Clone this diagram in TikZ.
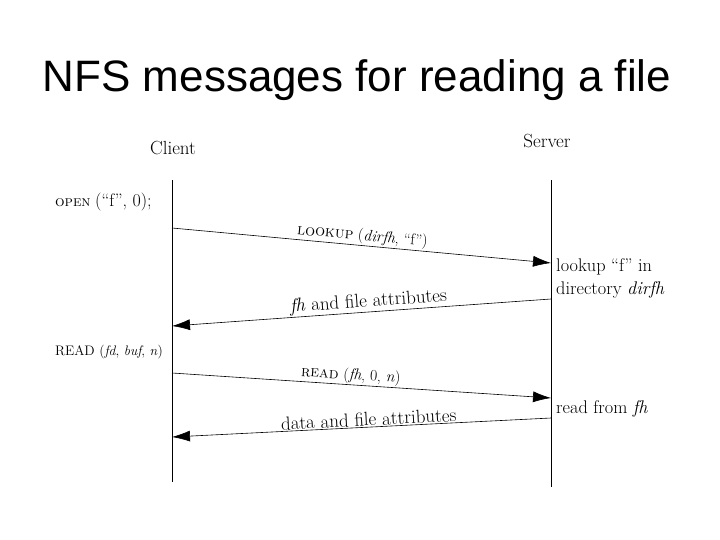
\documentclass[tikz,border=0pt]{standalone}
\usepackage{fontspec}
\newfontfamily\titlefont{Liberation Sans}
\usetikzlibrary{arrows.meta, positioning}
\tikzset{
  lifeline/.style={line width=0.7pt},
  msg/.style={line width=0.6pt, -{Latex[length=18pt,width=11pt]}}
}
\tikzset{
  calltext/.style={font=\fontsize{15.7}{18}\selectfont, sloped, above, inner sep=1pt},
  replytext/.style={font=\fontsize{19}{22}\selectfont, sloped, above, inner sep=1pt},
  sidetext/.style={font=\fontsize{18.3}{23}\selectfont, align=left, inner sep=0pt},
  calltext left/.style={font=\fontsize{13.8}{17}\selectfont, inner sep=0pt, anchor=base west}
}

\begin{document}
\begin{tikzpicture}[x=1pt, y=-1pt]
      \useasboundingbox (0,0) rectangle (720,540);
      \node[font=\titlefont\fontsize{44}{48}\selectfont, anchor=base] (title) at (357,92) {NFS messages for reading a file};
      % client and server lines
      \coordinate (cltop) at (172,180);
      \coordinate (clbot) at (172,482);
      \coordinate (svtop) at (551,180);
      \coordinate (svbot) at (551,487);
      \draw[lifeline] (cltop) -- (clbot);
      \draw[lifeline] (svtop) -- (svbot);
      \node[font=\fontsize{19}{22}\selectfont, anchor=base] (client) at (173,155) {Client};
      \node[font=\fontsize{19}{22}\selectfont, anchor=base] (server) at (547,148) {Server};
      % open: lookup of f
      \node[calltext left] (open) at (55,207) {\fontsize{15}{17}\selectfont\textsc{open} \fontsize{18}{20}\selectfont(“f”, 0);};
      \coordinate (lkout) at (172,228);
      \coordinate (lkin) at (551,263);
      \draw[msg] (lkout) -- (lkin) node[calltext, pos=0.5] (lkmsg) {\textsc{lookup} (\textit{dirfh}, “f”)};
      \node[sidetext, anchor=north west] (lkdo) at (556,258) {lookup “f” in\\directory \textit{dirfh}};
      \coordinate (fhout) at (551,299);
      \coordinate (fhin) at (172,326);
      \draw[msg] (fhout) -- (fhin) node[replytext, pos=0.48] (fhmsg) {\textit{fh} and file attributes};
      % read
      \node[calltext left] (read) at (55,355) {READ (\textit{fd}, \textit{buf}, \textit{n})};
      \coordinate (rdout) at (172,373);
      \coordinate (rdin) at (551,398);
      \draw[msg] (rdout) -- (rdin) node[calltext, pos=0.47] (rdmsg) {\textsc{read} (\textit{fh}, 0, \textit{n})};
      \node[sidetext, anchor=base west] (rddo) at (556,413) {read from \textit{fh}};
      \coordinate (dtout) at (551,418);
      \coordinate (dtin) at (172,437);
      \draw[msg] (dtout) -- (dtin) node[replytext, pos=0.48] (dtmsg) {data and file attributes};
\end{tikzpicture}
\end{document}
